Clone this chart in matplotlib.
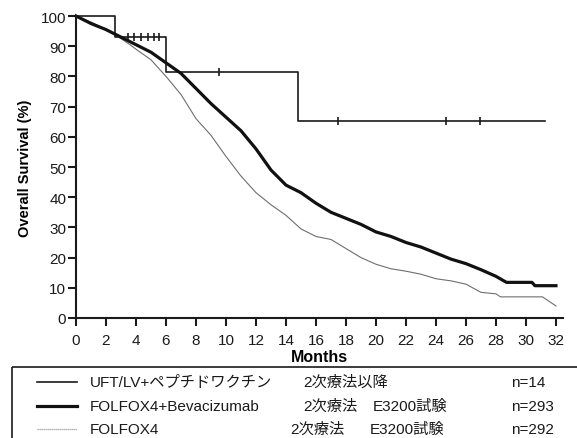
import numpy as np
import matplotlib.pyplot as plt
from matplotlib.patches import Rectangle

plt.rcParams['font.family'] = ['Liberation Sans', 'Noto Sans CJK JP', 'DejaVu Sans']

# UFT/LV + peptide vaccine arm (n=14), Kaplan-Meier steps
uft_t = [0, 2.6, 6.0, 14.8, 31.3]
uft_s = [100, 92.9, 81.6, 65.3, 65.3]
uft_censor = [3.45, 3.9, 4.35, 4.8, 5.2, 5.55, 9.55, 17.45, 24.65, 26.95]

# FOLFOX4 + Bevacizumab (E3200, n=293)
bev_t = [0, 1, 2, 3, 4, 5, 6, 7, 8, 9, 10, 11, 12, 13, 14, 15, 16, 17, 18,
         19, 20, 21, 22, 23, 24, 25, 26, 27, 28, 28.7, 30.4, 30.6, 32]
bev_s = [100, 97.5, 95.5, 93, 90.5, 88, 84.5, 81, 76, 71, 66.5, 62, 56, 49,
         44, 41.5, 38, 35, 33, 31, 28.5, 27, 25, 23.5, 21.5, 19.5, 18, 16,
         13.8, 11.8, 11.8, 10.7, 10.7]

# FOLFOX4 (E3200, n=292)
fol_t = [0, 1, 2, 3, 3.6, 4, 5, 6, 7, 8, 9, 10, 11, 12, 13, 14, 15, 16, 17,
         18, 19, 20, 21, 22, 23, 24, 25, 26, 27, 28, 28.3, 31.1, 31.7, 32]
fol_s = [100, 98, 95.5, 92.5, 90.5, 89, 85.5, 80, 74, 66, 60.5, 53.5, 47,
         41.5, 37.5, 34, 29.5, 27, 26, 23, 20, 17.8, 16.3, 15.5, 14.5, 13,
         12.3, 11.2, 8.5, 8, 7, 7, 5, 4]

legend_names = ['UFT/LV+ペプチドワクチン', 'FOLFOX4+Bevacizumab', 'FOLFOX4']
legend_line = ['2次療法以降', '2次療法', '2次療法']
legend_trial = ['', 'E3200試験', 'E3200試験']
legend_n = ['n=14', 'n=293', 'n=292']

W, H = 577, 439
fig = plt.figure(figsize=(W / 100, H / 100), dpi=100)
ax = fig.add_axes([76 / W, 1 - 319 / H, 487 / W, 302 / H])

uft_style = dict(color='#1a1a1a', lw=1.2)
bev_style = dict(color='#111111', lw=2.3)
fol_style = dict(color='#6e6e6e', lw=0.8)

ax.step(uft_t, uft_s, where='post', clip_on=False, **uft_style)
idx = np.searchsorted(uft_t, uft_censor, side='right') - 1
ax.plot(uft_censor, np.array(uft_s)[idx], ls='none', marker='|', ms=6,
        mew=1.2, color='#1a1a1a', clip_on=False)
ax.plot(fol_t, fol_s, clip_on=False, **fol_style)
ax.plot(bev_t, bev_s, clip_on=False, **bev_style)

ax.set_xlim(0, 32.47)
ax.set_ylim(0, 100)
ax.set_xticks(np.arange(0, 33, 2))
ax.set_yticks(np.arange(0, 101, 10))
for s in ['top', 'right']:
    ax.spines[s].set_visible(False)
for s in ['left', 'bottom']:
    ax.spines[s].set_linewidth(1.5)
    ax.spines[s].set_color('#1a1a1a')
ax.tick_params(direction='out', length=6, width=1.5, labelsize=11,
               colors='#1a1a1a')
ax.tick_params(axis='y', pad=1)
ax.tick_params(axis='x', pad=5)
ax.set_xlabel('Months', fontsize=11.5, fontweight='bold', labelpad=1)
ax.set_ylabel('Overall Survival (%)', fontsize=10.5, fontweight='bold',
              labelpad=6)

# legend panel drawn in pixel units
lg = fig.add_axes([0, 0, 1, 1], zorder=-1)
lg.set_xlim(0, W)
lg.set_ylim(H, 0)
lg.axis('off')
lg.add_patch(Rectangle((12, 368), W, 100, fill=False, lw=1.2,
                       edgecolor='#1a1a1a'))
rows_y = [383, 407, 430]
styles = [uft_style, bev_style, dict(color='#999999', lw=0.9, ls=(0, (1, 0.6)))]
name_x = [90, 90, 90]
line_x = [303, 303, 290]
trial_x = [0, 373, 370]
for i, y in enumerate(rows_y):
    lg.plot([37, 77], [y, y], **styles[i])
    kw = dict(fontsize=11, va='center', ha='left', color='#1a1a1a')
    lg.text(name_x[i], y, legend_names[i], **kw)
    lg.text(line_x[i], y, legend_line[i], **kw)
    if legend_trial[i]:
        lg.text(trial_x[i], y, legend_trial[i], **kw)
    lg.text(511, y, legend_n[i], **kw)

fig.savefig('out.png', dpi=100)
